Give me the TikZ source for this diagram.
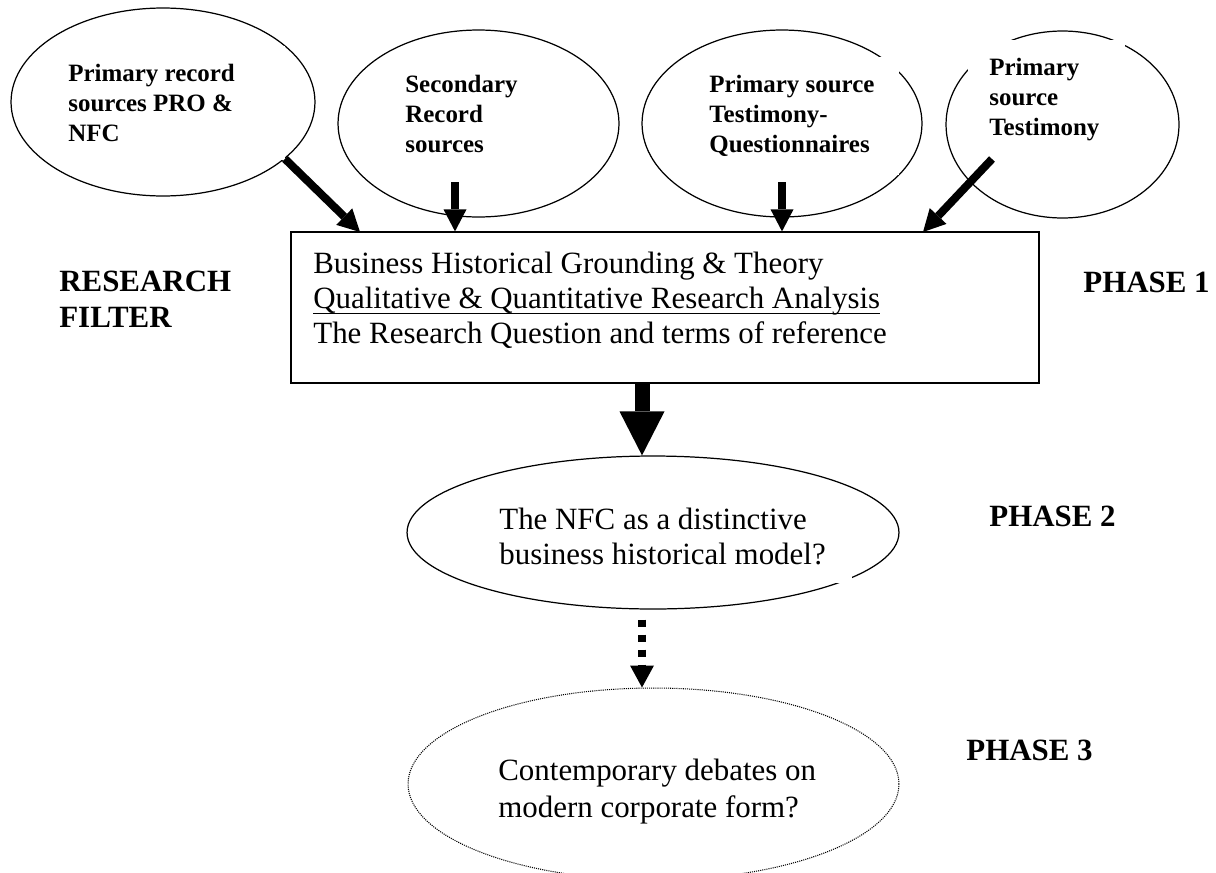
\documentclass[tikz,border=0pt]{standalone}
\usepackage{fontspec}
\setmainfont{Liberation Serif}
\usetikzlibrary{shapes,arrows.meta,positioning}

\newsavebox{\ulinebox}
\newcommand{\wordul}[1]{\sbox{\ulinebox}{#1}\rlap{\rule[-3.2pt]{\wd\ulinebox}{0.9pt}}\usebox{\ulinebox}}

\begin{document}
\begin{tikzpicture}[x=0.02cm, y=-0.02cm,
    source/.style={ellipse, draw, line width=0.7pt, minimum height=3.74cm},
    srctext/.style={anchor=north west, fill=white, align=flush left, inner xsep=0.2cm, inner ysep=0.36cm, font=\fontsize{14.2}{17.1}\selectfont\bfseries},
    phase/.style={anchor=base west, align=left, inner sep=0pt, font=\fontsize{17.6}{20.5}\selectfont\bfseries},
    feed/.style={line width=0.16cm, -{Triangle[length=0.44cm, width=0.46cm, line width=0pt]}}
]
\useasboundingbox (0,0) rectangle (1216,872);

% Record sources
\node[source, minimum width=6.08cm, minimum height=3.76cm] (prim) at (163,102) {};
\node[source, minimum width=5.62cm] (sec) at (478.5,123.5) {};
\node[source, minimum width=5.6cm] (quest) at (782,123.5) {};
\node[source, minimum width=4.66cm] (test) at (1062.5,124.5) {};
\node[srctext, text width=4.14cm] (primtext) at (58,46) {Primary record\\sources PRO \&\\NFC};
\node[srctext, text width=2.3cm] (sectext) at (395,57) {Secondary\\Record\\sources};
\node[srctext, text width=3.6cm] (questtext) at (699,57) {Primary source\\Testimony-\\Questionnaires};
\node[srctext, text width=2.3cm, inner xsep=0.42cm] (testtext) at (968,40) {Primary\\source\\Testimony};

% Research filter
\node[draw, line width=0.7pt, minimum width=14.96cm, minimum height=3.02cm] (filter) at (665,307.5) {};
\node[anchor=north west, inner sep=0pt, align=left, font=\fontsize{17.6}{19.9}\selectfont] (filtertext) at (313,252)
    {Business Historical Grounding \& Theory\\\wordul{Qualitative \& Quantitative Research Analysis}\\The Research Question and terms of reference};
\node[phase, anchor=north west] (rfilter) at (59,271) {RESEARCH\\FILTER};
\node[phase] (phase1) at (1083,292) {PHASE 1};

% Phase 2
\node[source, minimum width=9.84cm, minimum height=3.06cm] (nfc) at (653,532.5) {};
\node[srctext, text width=6.76cm, inner xsep=0.3cm, font=\fontsize{17.6}{19.9}\selectfont] (nfctext) at (484,490)
    {The NFC as a distinctive\\business historical model?};
\node[phase] (phase2) at (989,526) {PHASE 2};

% Phase 3
\node[source, line width=0.6pt, dash pattern=on 0.6pt off 0.6pt, minimum width=9.82cm, minimum height=3.84cm] (debate) at (653.5,784) {};
\node[srctext, text width=6.6cm, inner ysep=0.2cm, font=\fontsize{17.6}{21}\selectfont] (debatetext) at (488,749)
    {Contemporary debates on\\modern corporate form?};
\node[phase] (phase3) at (966,760) {PHASE 3};

% Arrows
\coordinate (t1) at (360,232);
\coordinate (s2) at (455,182);
\coordinate (s3) at (782,182);
\coordinate (s4) at (992,159);
\coordinate (t4) at (923,232);
\coordinate (axis) at (642,0);
\draw[feed] (prim.-25) -- (t1);
\draw[feed] (s2) -- (s2 |- filter.north);
\draw[feed] (s3) -- (s3 |- filter.north);
\draw[feed] (s4) -- (t4);
\draw[line width=0.3cm, -{Triangle[length=0.88cm, width=0.9cm, line width=0pt]}] (filter.south -| axis) -- (nfc.north -| axis);
\draw[feed, dash pattern=on 0.14cm off 0.16cm, -{Triangle[length=0.44cm, width=0.48cm, line width=0pt]}] ([yshift=-0.2cm]nfc.south -| axis) -- (debate.north -| axis);

\end{tikzpicture}
\end{document}
